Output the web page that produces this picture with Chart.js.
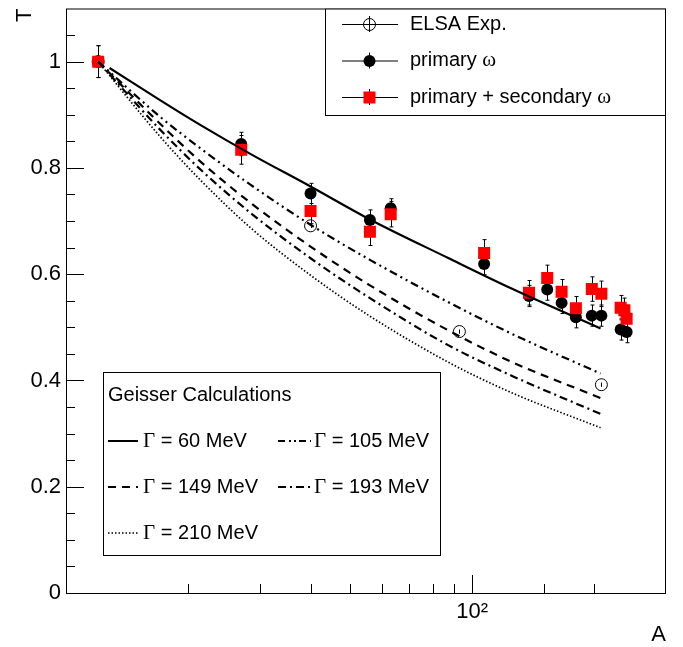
<!DOCTYPE html>
<html>
<head>
<meta charset="utf-8">
<script src="https://cdn.jsdelivr.net/npm/chart.js@4.4.1/dist/chart.umd.min.js"></script>
<style>
  html, body { margin: 0; padding: 0; background: #fff; }
  #wrap { width: 683px; height: 647px; }
</style>
</head>
<body>
<div id="wrap"><canvas id="chart" width="683" height="647"></canvas></div>
<script>
const SANS = '"Liberation Sans", Arial, sans-serif';
const SERIF = '"Liberation Serif", "Times New Roman", serif';

// ELSA measurement (open circles)
const elsaA = [12, 40, 93, 208];
const elsaT = [1.0, 0.691, 0.492, 0.392];
const elsaErr = [0.004, 0.004, 0.004, 0.004];

// primary omega (black circles)
const primA = [12, 27, 40, 56, 63, 107, 138, 153, 166, 180, 197, 208, 232, 240];
const primT = [1.0, 0.845, 0.752, 0.702, 0.724, 0.619, 0.559, 0.571, 0.546, 0.519, 0.522, 0.522, 0.496, 0.491];
const primErr = [0.03, 0.022, 0.019, 0.019, 0.018, 0.02, 0.02, 0.02, 0.02, 0.02, 0.02, 0.02, 0.02, 0.02];

// primary + secondary omega (red squares)
const secA = [12, 27, 40, 56, 63, 107, 138, 153, 166, 180, 197, 208, 232, 237, 240];
const secT = [1.0, 0.834, 0.719, 0.680, 0.713, 0.640, 0.565, 0.593, 0.567, 0.536, 0.572, 0.563, 0.537, 0.532, 0.516];
const secErr = [0.03, 0.027, 0.024, 0.026, 0.024, 0.025, 0.023, 0.024, 0.023, 0.022, 0.023, 0.024, 0.023, 0.023, 0.023];

// Geisser calculations
const calcA = [12, 17, 21.5, 28.5, 40, 56, 87, 125, 207];
const solidA = [12.8, 17, 21.5, 28.5, 40, 56, 87, 125, 207];
const gamma60 = [0.988, 0.928, 0.880, 0.826, 0.765, 0.703, 0.631, 0.573, 0.498];
const gamma105 = [1.0, 0.897, 0.836, 0.768, 0.693, 0.627, 0.548, 0.488, 0.413];
const gamma149 = [1.0, 0.884, 0.811, 0.734, 0.652, 0.579, 0.495, 0.435, 0.367];
const gamma193 = [1.0, 0.873, 0.796, 0.715, 0.630, 0.555, 0.467, 0.409, 0.337];
const gamma210 = [1.0, 0.860, 0.776, 0.687, 0.598, 0.521, 0.435, 0.377, 0.311];

const xTicksShown = [100];

const zip = (xs, ys) => xs.map((v, i) => ({x: v, y: ys[i]}));

const DASH_105 = [8, 4, 2, 4, 2, 4];
const DASH_149 = [8, 6];
const DASH_193 = [8, 4, 2, 4];
const DASH_210 = [1.5, 2];

function curve(label, xs, ys, dash, width, order) {
    return {
        label, data: zip(xs, ys), showLine: true, borderColor: '#000', borderWidth: width,
        borderDash: dash, pointRadius: 0, cubicInterpolationMode: 'monotone', order
    };
}

// frame + inward ticks (ROOT style)
const frame = {
    id: 'frame',
    beforeDatasetsDraw(chart) {
        const {ctx, chartArea: a, scales: {x, y}} = chart;
        ctx.save();
        ctx.strokeStyle = '#000';
        ctx.lineWidth = 1;
        ctx.strokeRect(a.left + 0.5, a.top + 0.5, a.right - a.left - 1, a.bottom - a.top);
        ctx.beginPath();
        for (let i = 0; i < 22; i++) {
            const py = Math.round(y.getPixelForValue(i * 0.05)) + 0.5;
            const len = i % 4 === 0 ? 18 : 9;
            ctx.moveTo(a.left, py);
            ctx.lineTo(a.left + len, py);
        }
        x.ticks.forEach(t => {
            if (t.value <= x.min || t.value >= x.max) return;
            const px = Math.round(x.getPixelForValue(t.value)) + 0.5;
            const len = Math.abs(Math.log10(t.value) % 1) < 1e-9 ? 18 : 9;
            ctx.moveTo(px, a.bottom);
            ctx.lineTo(px, a.bottom - len);
        });
        ctx.stroke();
        // axis titles
        ctx.fillStyle = '#000';
        ctx.font = '22px ' + SANS;
        ctx.textAlign = 'right';
        ctx.textBaseline = 'alphabetic';
        ctx.fillText('A', a.right, 641);
        ctx.translate(31, a.top);
        ctx.rotate(-Math.PI / 2);
        ctx.fillText('T', 0, 0);
        ctx.restore();
    }
};

const errorBars = {
    id: 'errorBars',
    beforeDatasetDraw(chart, args) {
        const ds = chart.data.datasets[args.index];
        if (!ds.errors) return;
        const {ctx, scales: {x, y}} = chart;
        ctx.save();
        ctx.strokeStyle = '#000';
        ctx.lineWidth = 1;
        ctx.beginPath();
        ds.data.forEach((p, i) => {
            const px = Math.round(x.getPixelForValue(p.x)) + 0.5;
            const lo = y.getPixelForValue(p.y - ds.errors[i]);
            const hi = y.getPixelForValue(p.y + ds.errors[i]);
            ctx.moveTo(px, lo); ctx.lineTo(px, hi);
            if (ds.errors[i] > 0.01) {
                ctx.moveTo(px - 2, lo); ctx.lineTo(px + 2, lo);
                ctx.moveTo(px - 2, hi); ctx.lineTo(px + 2, hi);
            }
        });
        ctx.stroke();
        ctx.restore();
    }
};

function rich(ctx, parts, x, y) {
    parts.forEach(([txt, font]) => {
        ctx.font = font;
        ctx.fillText(txt, x, y);
        x += ctx.measureText(txt).width;
    });
}

function sample(ctx, x1, x2, y, dash, width) {
    ctx.save();
    ctx.lineWidth = width;
    ctx.setLineDash(dash);
    ctx.beginPath();
    ctx.moveTo(x1, y);
    ctx.lineTo(x2, y);
    ctx.stroke();
    ctx.restore();
}

const legends = {
    id: 'legends',
    afterDatasetsDraw(chart) {
        const {ctx, chartArea: a} = chart;
        ctx.save();
        ctx.strokeStyle = '#000';
        ctx.fillStyle = '#fff';
        ctx.lineWidth = 1;

        // top right box
        ctx.fillRect(325, a.top, a.right - 325, 115 - a.top);
        ctx.strokeRect(325.5, a.top + 0.5, a.right - 326, 115 - a.top);
        const rows = [24, 60.5, 97];
        const fontS = '20px ' + SANS, fontG = '21px ' + SERIF;
        rows.forEach((ry, i) => {
            ctx.strokeStyle = '#000';
            ctx.lineWidth = 1;
            ctx.beginPath();
            ctx.moveTo(342, ry + 0.5); ctx.lineTo(398, ry + 0.5);
            ctx.moveTo(369.5, ry - 8); ctx.lineTo(369.5, ry + 8);
            ctx.stroke();
            ctx.beginPath();
            if (i === 0) {
                ctx.arc(369.5, ry + 0.5, 6, 0, Math.PI * 2);
                ctx.stroke();
            } else if (i === 1) {
                ctx.fillStyle = '#000';
                ctx.arc(369.5, ry + 0.5, 6, 0, Math.PI * 2);
                ctx.fill();
            } else {
                ctx.fillStyle = '#ff0000';
                ctx.fillRect(363.5, ry - 5.5, 12, 12);
            }
        });
        ctx.fillStyle = '#000';
        ctx.textAlign = 'left';
        ctx.textBaseline = 'middle';
        rich(ctx, [['ELSA Exp.', fontS]], 410, rows[0]);
        rich(ctx, [['primary ', fontS], ['\u03c9', fontG]], 410, rows[1]);
        rich(ctx, [['primary + secondary ', fontS], ['\u03c9', fontG]], 410, rows[2]);

        // lower left box
        ctx.fillStyle = '#fff';
        ctx.fillRect(103, 372, 337, 183);
        ctx.strokeStyle = '#000';
        ctx.strokeRect(103.5, 372.5, 337, 183);
        ctx.fillStyle = '#000';
        rich(ctx, [['Geisser Calculations', fontS]], 108, 395);
        const entries = [
            [108, 138, 143, 441, [], 2, '60'],
            [278, 311, 314, 441, [7, 4, 2, 3, 2, 3], 1.8, '105'],
            [108, 138, 143, 487, DASH_149, 1.8, '149'],
            [278, 311, 314, 487, DASH_193, 1.8, '193'],
            [108, 138, 143, 533, DASH_210, 1.3, '210']
        ];
        entries.forEach(([x1, x2, tx, ry, dash, w, g]) => {
            ctx.strokeStyle = '#000';
            sample(ctx, x1, x2, ry, dash, w);
            ctx.fillStyle = '#000';
            rich(ctx, [['\u0393', fontG], [' = ' + g + ' MeV', fontS]], tx, ry);
        });
        ctx.restore();
    }
};

new Chart(document.getElementById('chart'), {
    type: 'scatter',
    data: {
        datasets: [
            {
                label: 'ELSA Exp.', data: zip(elsaA, elsaT), errors: elsaErr,
                pointStyle: 'circle', pointRadius: 6, backgroundColor: 'rgba(0,0,0,0)',
                borderColor: '#000', borderWidth: 1, order: 8
            },
            {
                label: 'primary \u03c9', data: zip(primA, primT), errors: primErr,
                pointStyle: 'circle', pointRadius: 6, backgroundColor: '#000',
                borderColor: '#000', borderWidth: 0, order: 7
            },
            {
                label: 'primary + secondary \u03c9', data: zip(secA, secT), errors: secErr,
                pointStyle: 'rect', pointRadius: 8.5, backgroundColor: '#ff0000',
                borderWidth: 0, order: 6
            },
            curve('\u0393 = 60 MeV', solidA, gamma60, [], 2.2, 0),
            curve('\u0393 = 105 MeV', calcA, gamma105, DASH_105, 2.2, 1),
            curve('\u0393 = 149 MeV', calcA, gamma149, DASH_149, 2.2, 2),
            curve('\u0393 = 193 MeV', calcA, gamma193, DASH_193, 2.2, 3),
            curve('\u0393 = 210 MeV', calcA, gamma210, DASH_210, 1.7, 4)
        ]
    },
    options: {
        responsive: false,
        animation: false,
        events: [],
        layout: {padding: {top: 6, right: 17, left: 0, bottom: 0}},
        plugins: {legend: {display: false}, tooltip: {enabled: false}},
        scales: {
            x: {
                type: 'logarithmic', min: 10, max: 300,
                grid: {display: false, drawTicks: false},
                border: {display: false},
                ticks: {
                    autoSkip: false, maxRotation: 0, minRotation: 0, padding: 6,
                    color: '#000', font: {family: SANS, size: 22},
                    callback: v => xTicksShown.some(t => Math.abs(t - v) < 1e-6) ? '10\u00b2' : ''
                },
                afterFit: s => { s.height = 54; s.paddingLeft = 0; s.paddingRight = 0; }
            },
            y: {
                min: 0, max: 1.1,
                grid: {display: false, drawTicks: false},
                border: {display: false},
                ticks: {
                    stepSize: 0.2, padding: 5, color: '#000', font: {family: SANS, size: 22},
                    callback: v => v > 1.05 ? '' : String(+v.toFixed(2))
                },
                afterFit: s => { s.width = 66; s.paddingTop = 0; s.paddingBottom = 0; }
            }
        }
    },
    plugins: [frame, errorBars, legends]
});
</script>
</body>
</html>
